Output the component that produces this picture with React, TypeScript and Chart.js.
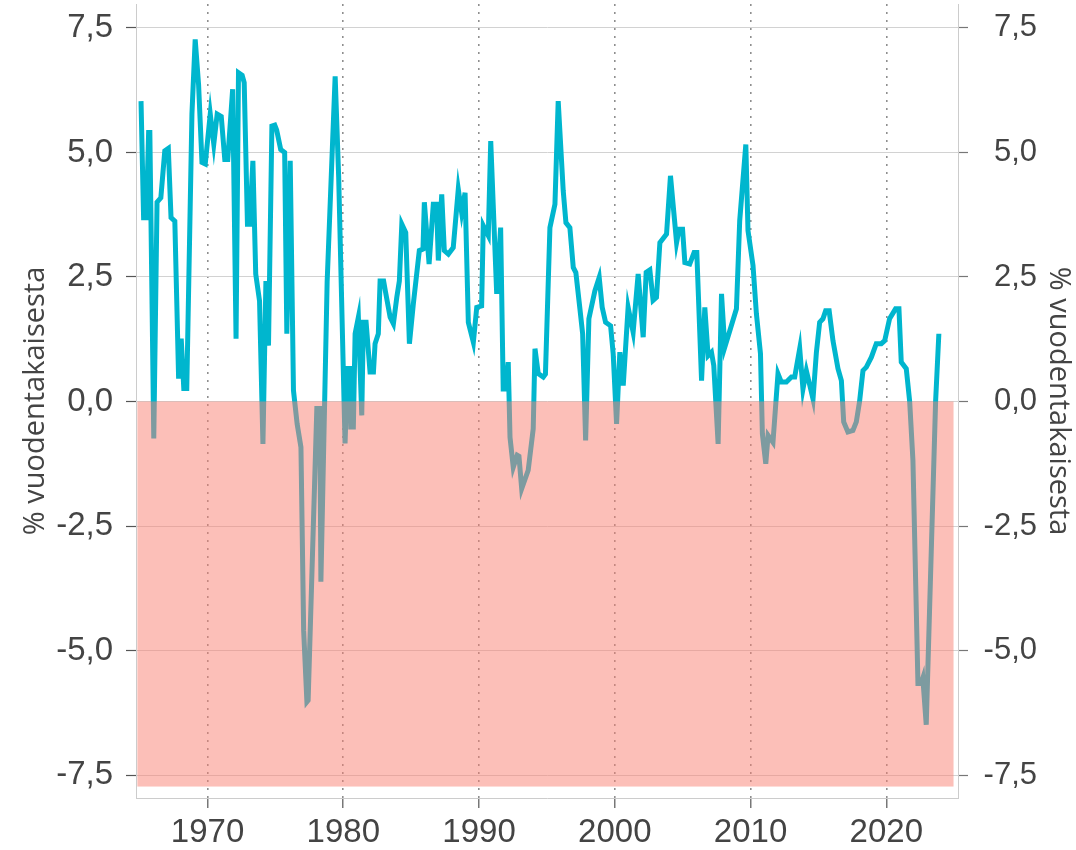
import { useEffect, useRef } from 'react';
import { Chart, registerables } from 'chart.js';

Chart.register(...registerables);

// Decimal-year positions of each observation
const YEARS: number[] = [
  1965.10, 1965.29, 1965.49, 1965.66, 1965.75, 1966.04, 1966.28, 1966.56, 1966.85, 1967.11,
  1967.31, 1967.59, 1967.87, 1968.06, 1968.25, 1968.47, 1968.85, 1969.09, 1969.34, 1969.59,
  1969.83, 1970.20, 1970.46, 1970.71, 1971.01, 1971.27, 1971.49, 1971.85, 1972.10, 1972.28,
  1972.55, 1972.70, 1972.94, 1973.11, 1973.34, 1973.55, 1973.83, 1974.08, 1974.30, 1974.49,
  1974.74, 1974.95, 1975.09, 1975.39, 1975.68, 1975.84, 1976.09, 1976.33, 1976.60, 1976.88,
  1977.08, 1977.32, 1977.41, 1978.05, 1978.27, 1978.35, 1978.81, 1979.40, 1979.66, 1980.13,
  1980.30, 1980.50, 1980.55, 1980.74, 1980.87, 1981.11, 1981.36, 1981.48, 1981.68, 1981.97,
  1982.22, 1982.34, 1982.58, 1982.71, 1982.97, 1983.11, 1983.45, 1983.69, 1983.94, 1984.13,
  1984.31, 1984.60, 1984.87, 1985.16, 1985.60, 1985.87, 1985.97, 1986.32, 1986.63, 1986.87,
  1987.00, 1987.25, 1987.44, 1987.74, 1988.10, 1988.47, 1988.72, 1988.97, 1989.21, 1989.58,
  1989.83, 1990.19, 1990.31, 1990.68, 1990.86, 1991.30, 1991.59, 1991.78, 1991.95, 1992.15,
  1992.28, 1992.52, 1992.81, 1992.94, 1993.14, 1993.62, 1993.99, 1994.12, 1994.36, 1994.73,
  1994.89, 1995.22, 1995.59, 1995.83, 1996.20, 1996.40, 1996.69, 1996.94, 1997.13, 1997.43,
  1997.63, 1997.85, 1998.09, 1998.53, 1998.85, 1999.07, 1999.32, 1999.69, 1999.88, 2000.13,
  2000.37, 2000.62, 2000.98, 2001.35, 2001.72, 2002.09, 2002.31, 2002.58, 2002.82, 2003.07,
  2003.32, 2003.81, 2004.10, 2004.55, 2004.74, 2004.99, 2005.16, 2005.52, 2005.84, 2006.04,
  2006.39, 2006.63, 2006.87, 2007.12, 2007.29, 2007.61, 2007.86, 2008.10, 2008.47, 2008.96,
  2009.20, 2009.65, 2009.81, 2010.18, 2010.43, 2010.73, 2010.87, 2011.12, 2011.29, 2011.65,
  2012.02, 2012.27, 2012.64, 2013.01, 2013.25, 2013.62, 2013.86, 2014.11, 2014.60, 2014.85,
  2015.09, 2015.33, 2015.53, 2015.79, 2016.07, 2016.44, 2016.69, 2016.86, 2017.17, 2017.54,
  2017.79, 2018.03, 2018.28, 2018.53, 2018.90, 2019.26, 2019.63, 2019.88, 2020.24, 2020.68,
  2020.93, 2021.10, 2021.47, 2021.72, 2021.96, 2022.33, 2022.56, 2022.69, 2022.94, 2023.63,
  2023.87,
];

// Year-on-year change, %
const VALUES: number[] = [
  6.03, 3.69, 3.69, 5.40, 5.40, -0.74, 4.00, 4.09, 5.03, 5.08,
  3.69, 3.62, 0.46, 1.26, 0.26, 0.26, 5.77, 7.27, 6.36, 4.80,
  4.77, 5.77, 5.17, 5.77, 5.72, 4.86, 4.86, 6.27, 1.26, 6.60,
  6.55, 6.40, 3.56, 3.56, 4.83, 2.56, 2.02, -0.85, 2.42, 1.12,
  5.53, 5.55, 5.45, 5.06, 5.00, 1.36, 4.83, 0.22, -0.45, -0.92,
  -4.60, -6.03, -6.00, -0.14, -0.14, -3.62, 2.40, 6.53, 4.50, -0.84,
  0.66, 0.66, -0.51, -0.51, 1.36, 1.69, -0.28, 1.59, 1.59, 0.59,
  0.59, 1.16, 1.36, 2.42, 2.42, 2.20, 1.69, 1.56, 2.09, 2.42,
  3.56, 3.39, 1.16, 1.96, 3.03, 3.06, 4.00, 2.76, 3.96, 3.96,
  2.83, 4.16, 3.03, 2.96, 3.09, 4.26, 3.79, 4.19, 1.59, 1.19,
  1.89, 1.92, 3.53, 3.33, 5.23, 2.16, 3.49, 0.25, 0.25, 0.79,
  -0.72, -1.32, -1.08, -1.10, -1.75, -1.38, -0.55, 1.06, 0.56, 0.49,
  0.55, 3.49, 3.96, 6.03, 4.23, 3.59, 3.49, 2.69, 2.59, 1.86,
  1.36, -0.78, 1.66, 2.22, 2.49, 1.89, 1.59, 1.52, 0.96, -0.45,
  0.99, 0.32, 1.89, 1.39, 2.56, 1.29, 2.59, 2.64, 2.03, 2.09,
  3.19, 3.36, 4.53, 3.19, 3.46, 3.46, 2.79, 2.76, 2.99, 2.99,
  0.42, 1.89, 0.92, 0.99, 0.72, -0.85, 2.16, 1.09, 1.42, 1.86,
  3.63, 5.16, 3.43, 2.73, 1.76, 0.96, -0.65, -1.25, -0.68, -0.82,
  0.56, 0.39, 0.39, 0.49, 0.49, 1.06, 0.25, 0.62, 0.05, 0.99,
  1.59, 1.66, 1.82, 1.82, 1.22, 0.66, 0.42, -0.41, -0.61, -0.58,
  -0.41, 0.00, 0.62, 0.69, 0.89, 1.16, 1.16, 1.22, 1.66, 1.86,
  1.86, 0.79, 0.66, 0.00, -1.18, -5.66, -5.66, -5.55, -6.49, 0.00,
  1.36,
];

const X_TICKS: number[] = [1970, 1980, 1990, 2000, 2010, 2020];
const Y_TICKS: number[] = [-7.5, -5, -2.5, 0, 2.5, 5, 7.5];
const X_RANGE: number[] = [1964.73, 2025.28];
const Y_RANGE: number[] = [-7.96, 7.98];
// Shaded negative-growth band
const BAND_X: number[] = [1964.83, 2024.95];
const BAND_Y: number[] = [-7.73, 0];
const AXIS_TITLE = '% vuodentakaisesta';

const TEXT = '#444444';
const SANS = '"Liberation Sans", Arial, sans-serif';
const TITLE_FONT = '"Open Sans", "Liberation Sans", sans-serif';

const fmt = (v: number) => Number(v).toFixed(1).replace('.', ',');

export default function App() {
  const ref = useRef<HTMLCanvasElement | null>(null);

  useEffect(() => {
    const canvas = ref.current;
    if (!canvas) return;

    const band = {
      id: 'band',
      afterDatasetsDraw(chart: any) {
        const { ctx, scales } = chart;
        const xs = scales.x;
        const ys = scales.y;
        const x0 = xs.getPixelForValue(BAND_X[0]);
        const x1 = xs.getPixelForValue(BAND_X[1]);
        const y0 = ys.getPixelForValue(BAND_Y[1]);
        const y1 = ys.getPixelForValue(BAND_Y[0]);
        ctx.save();
        ctx.fillStyle = 'rgba(250,128,114,0.5)';
        ctx.fillRect(x0, y0, x1 - x0, y1 - y0);
        ctx.restore();
      },
    };

    const yTicks = (scale: any) => {
      scale.ticks = Y_TICKS.map((v) => ({ value: v }));
    };

    const chart = new Chart(canvas, {
      type: 'line',
      data: {
        datasets: [
          {
            data: YEARS.map((x, i) => ({ x, y: VALUES[i] })),
            borderColor: '#00B6CE',
            borderWidth: 5,
            pointRadius: 0,
            pointHoverRadius: 0,
            tension: 0,
            fill: false,
          },
        ],
      },
      options: {
        responsive: false,
        animation: false,
        devicePixelRatio: 1,
        layout: { padding: { top: 4, left: 0, right: 39, bottom: 0 } },
        plugins: {
          legend: { display: false },
          tooltip: { enabled: false },
        },
        scales: {
          x: {
            type: 'linear',
            min: X_RANGE[0],
            max: X_RANGE[1],
            afterBuildTicks: (scale: any) => {
              scale.ticks = X_TICKS.map((v) => ({ value: v }));
            },
            afterFit: (scale: any) => {
              scale.height = 52;
              scale.paddingLeft = 0;
              scale.paddingRight = 0;
            },
            ticks: {
              autoSkip: false,
              maxRotation: 0,
              padding: 5,
              color: TEXT,
              font: { family: SANS, size: 33 },
              callback: (v: any) => String(v),
            },
            grid: {
              color: '#8f8f8f',
              lineWidth: 1.6,
              drawTicks: true,
              tickLength: 10,
              tickColor: '#555555',
              tickWidth: 1.2,
              tickBorderDash: [],
            },
            border: { display: true, color: '#cccccc', width: 1, dash: [2, 6] },
          },
          y: {
            type: 'linear',
            position: 'left',
            min: Y_RANGE[0],
            max: Y_RANGE[1],
            afterBuildTicks: yTicks,
            afterFit: (scale: any) => {
              scale.width = 136;
              scale.paddingTop = 0;
              scale.paddingBottom = 0;
            },
            ticks: {
              padding: 13,
              color: TEXT,
              font: { family: SANS, size: 33 },
              callback: (v: any) => fmt(v),
            },
            grid: {
              color: '#d2d2d2',
              lineWidth: 1,
              tickLength: 10,
              tickColor: '#555555',
              tickWidth: 1.2,
            },
            border: { display: true, color: '#cccccc', width: 1 },
            title: {
              display: true,
              text: AXIS_TITLE,
              color: TEXT,
              font: { family: TITLE_FONT, size: 29 },
              padding: { top: 18, bottom: 0 },
            },
          },
          y2: {
            type: 'linear',
            axis: 'y',
            position: 'right',
            min: Y_RANGE[0],
            max: Y_RANGE[1],
            afterBuildTicks: yTicks,
            afterFit: (scale: any) => {
              scale.width = 79;
              scale.paddingTop = 0;
              scale.paddingBottom = 0;
            },
            ticks: {
              padding: 22,
              crossAlign: 'far',
              color: TEXT,
              font: { family: SANS, size: 31 },
              callback: (v: any) => fmt(v),
            },
            grid: {
              drawOnChartArea: false,
              tickLength: 10,
              tickColor: '#777777',
              tickWidth: 1.2,
            },
            border: { display: true, color: '#cccccc', width: 1 },
            title: {
              display: true,
              text: AXIS_TITLE,
              color: TEXT,
              font: { family: TITLE_FONT, size: 29 },
              padding: { top: -39, bottom: 0 },
            },
          },
        },
      } as any,
      plugins: [band],
    });

    return () => {
      chart.destroy();
    };
  }, []);

  return (
    <div
      style={{
        position: 'absolute',
        left: 0,
        top: 0,
        width: 1076,
        height: 850,
        background: '#ffffff',
      }}
    >
      <canvas ref={ref} width={1076} height={850} style={{ display: 'block' }} />
    </div>
  );
}
